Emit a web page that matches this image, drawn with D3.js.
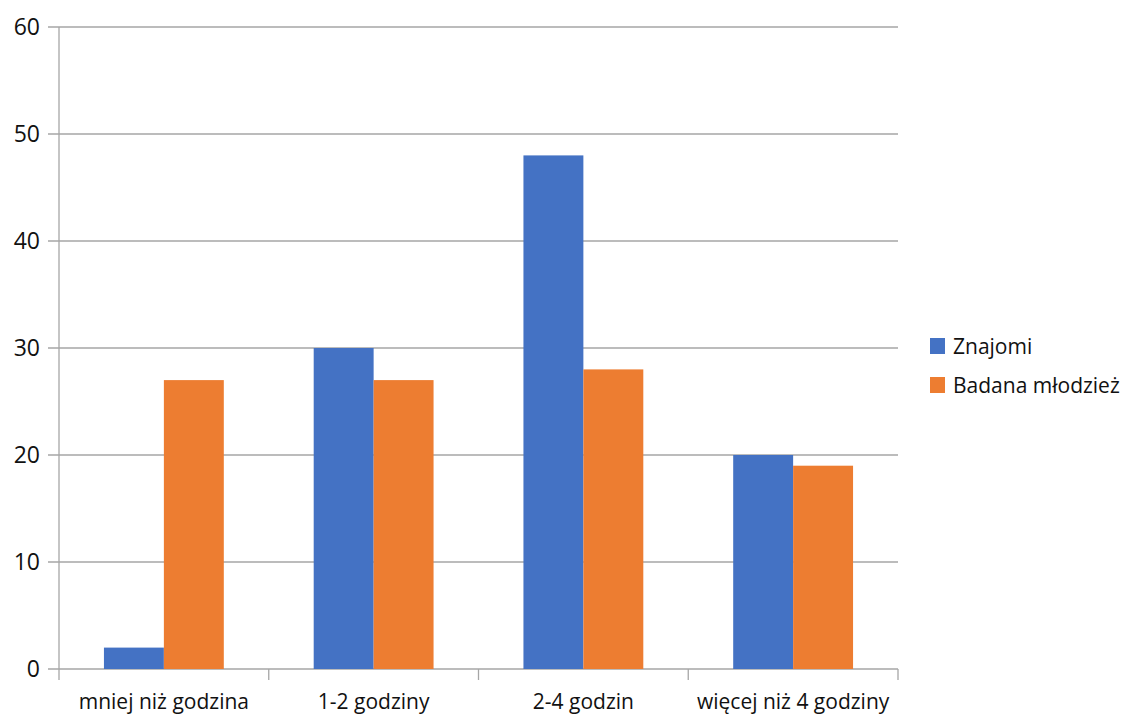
<!DOCTYPE html>
<html><head><meta charset="utf-8">
<script src="https://cdn.jsdelivr.net/npm/d3@7"></script>
<style>body{margin:0;background:#fff}svg{display:block}text{font-family:"Open Sans",sans-serif;fill:#111}</style>
</head><body><svg id="c" width="1124" height="717"></svg>
<script>
const categories = ["mniej niż godzina","1-2 godziny","2-4 godzin","więcej niż 4 godziny"];
const seriesNames = ["Znajomi","Badana młodzież"];
const znajomi = [2,30,48,20];
const mlodziez = [27,27,28,19];
const yTicks = [0,10,20,30,40,50,60];
const colors = ["#4472C4","#ED7D31"];

const svg = d3.select("#c");
const L=59,R=898,T=27,B=669;
const x = d3.scaleBand().domain(categories).range([L,R]).paddingInner(0).paddingOuter(0);
const y = d3.scaleLinear().domain([0,60]).range([B,T]);
const inner = d3.scaleBand().domain([0,1]).range([0,x.bandwidth()]).paddingInner(0).paddingOuter(0.75);

const grid = svg.append("g");
grid.selectAll("line").data(yTicks).join("line")
  .attr("x1",L-11).attr("x2",R).attr("y1",d=>y(d)).attr("y2",d=>y(d))
  .attr("stroke","#a6a6a6").attr("stroke-width",1.3);
svg.append("line").attr("x1",L).attr("x2",L).attr("y1",T).attr("y2",B+11).attr("stroke","#a6a6a6").attr("stroke-width",1.3);
const tks = categories.map((c,i)=>x(c)).concat([R]).slice(1);
svg.selectAll(".ct").data(tks).join("line").attr("class","ct")
  .attr("x1",d=>d).attr("x2",d=>d).attr("y1",B).attr("y2",B+11).attr("stroke","#a6a6a6").attr("stroke-width",1.3);

svg.append("g").selectAll("text").data(yTicks).join("text")
  .attr("x",40).attr("y",d=>y(d)).attr("dy","0.36em").attr("text-anchor","end")
  .style("font-size","23px").text(d=>d);

const data = categories.map((c,i)=>({c,vals:[znajomi[i],mlodziez[i]]}));
const g = svg.append("g").selectAll("g").data(data).join("g").attr("transform",d=>`translate(${x(d.c)},0)`);
g.selectAll("rect").data(d=>d.vals.map((v,k)=>({v,k}))).join("rect")
  .attr("x",d=>inner(d.k)).attr("width",inner.bandwidth())
  .attr("y",d=>y(d.v)).attr("height",d=>B-y(d.v)).attr("fill",d=>colors[d.k]);

svg.append("g").selectAll("text").data(categories).join("text")
  .attr("x",d=>x(d)+x.bandwidth()/2).attr("y",709).attr("text-anchor","middle")
  .style("font-size","21px").text(d=>d);

const lg = svg.append("g").selectAll("g").data(seriesNames).join("g")
  .attr("transform",(d,i)=>`translate(930,${338+i*39})`);
lg.append("rect").attr("width",15).attr("height",16).attr("fill",(d,i)=>colors[i]);
lg.append("text").attr("x",23).attr("y",8).attr("dy","0.36em").style("font-size","21px").text(d=>d);
</script></body></html>
